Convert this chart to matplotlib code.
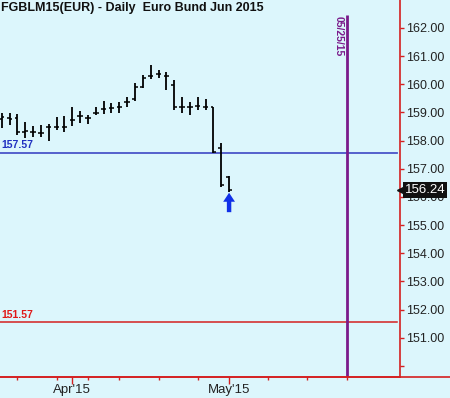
import matplotlib
matplotlib.use('Agg')
import matplotlib.pyplot as plt
from matplotlib.lines import Line2D

plt.rcParams['font.family'] = ['Liberation Sans', 'DejaVu Sans']

# ---- data (daily OHLC, trading-day index) ----
bar_idx = list(range(30))
opens  = [158.78, 158.80, 158.81, 158.30, 158.32, 158.28, 158.50, 158.50, 158.50, 158.73,
          158.88, 158.79, 158.97, 159.11, 159.15, 159.18, 159.38, 159.47, 159.90, 160.30,
          160.37, 160.30, 159.98, 159.18, 159.18, 159.23, 159.21, 159.18, 157.73, 156.71]
highs  = [158.97, 158.97, 158.94, 158.67, 158.52, 158.55, 158.59, 158.85, 158.88, 159.21,
          159.06, 158.91, 159.18, 159.42, 159.35, 159.38, 159.56, 160.06, 160.33, 160.69,
          160.51, 160.45, 160.15, 159.56, 159.38, 159.54, 159.47, 159.21, 157.91, 156.75]
lows   = [158.44, 158.56, 158.20, 158.08, 158.12, 158.14, 158.00, 158.38, 158.32, 158.52,
          158.62, 158.59, 158.91, 158.94, 158.97, 158.99, 159.18, 159.42, 159.86, 160.18,
          160.21, 159.80, 159.09, 158.97, 158.91, 159.09, 159.09, 157.55, 156.37, 156.18]
closes = [158.84, 158.78, 158.32, 158.33, 158.32, 158.28, 158.50, 158.50, 158.50, 158.73,
          158.88, 158.79, 158.97, 159.11, 159.15, 159.18, 159.38, 159.92, 160.21, 160.30,
          160.37, 160.30, 159.18, 159.18, 159.18, 159.23, 159.21, 157.61, 156.43, 156.24]

week_ticks = [2, 7, 11, 15, 20, 25, 29, 34, 39, 44]
month_ticks = [9, 29]
month_labels = ["Apr'15", "May'15"]
price_ticks = [150, 151, 152, 153, 154, 155, 156, 157, 158, 159, 160, 161, 162]
blue_level = 157.57
red_level = 151.57
marker_x = 44
marker_label = '05/25/15'
last_price = 156.24
title = 'FGBLM15(EUR) - Daily  Euro Bund Jun 2015'

BG = '#dcf6fc'
RED = '#d42020'
BLUE = '#4a55c8'
PURPLE = '#7a1a8a'

W, H = 450, 398
fig = plt.figure(figsize=(W / 100, H / 100), dpi=100)
fig.patch.set_facecolor(BG)
ax = fig.add_axes([0, (H - 377) / H, 400 / W, 377 / H])
ax.set_facecolor(BG)

ax.set_xlim(-0.217, 50.8)
ax.set_ylim(149.61, 162.99)

# OHLC bars
ax.vlines(bar_idx, lows, highs, color='black', linewidth=1.3, zorder=3)
ax.hlines(opens, [i - 0.35 for i in bar_idx], bar_idx, color='black', linewidth=1.1, zorder=3)
ax.hlines(closes, bar_idx, [i + 0.35 for i in bar_idx], color='black', linewidth=1.1, zorder=3)

# horizontal levels
ax.axhline(blue_level, xmin=0, xmax=0.992, color=BLUE, linewidth=1.3, zorder=2)
ax.axhline(red_level, xmin=0, xmax=0.992, color=RED, linewidth=1.1, zorder=2)
ax.text(0.004, blue_level + 0.08, f'{blue_level:.2f}', transform=ax.get_yaxis_transform(),
        color='#2030c0', fontsize=7.5, fontweight='bold', va='bottom', ha='left')
ax.text(0.004, red_level + 0.08, f'{red_level:.2f}', transform=ax.get_yaxis_transform(),
        color='#e01818', fontsize=7.5, fontweight='bold', va='bottom', ha='left')

# vertical date marker
ax.vlines(marker_x, 0, 1 - 15 / 377, transform=ax.get_xaxis_transform(),
          color=PURPLE, linewidth=2, zorder=2)
ax.text(marker_x - 1.0, 1 - 16 / 377, marker_label, transform=ax.get_xaxis_transform(),
        rotation=270, color=PURPLE, fontsize=7.5, fontweight='bold', ha='center', va='top')

# up arrow under last bar
ax.annotate('', xy=(bar_idx[-1], lows[-1] - 0.03), xytext=(bar_idx[-1], lows[-1] - 0.72),
            arrowprops=dict(facecolor='#1030e8', edgecolor='none', width=3.2,
                            headwidth=8.5, headlength=6.5, shrink=0), zorder=4)

# spines
for s in ['left', 'top']:
    ax.spines[s].set_visible(False)
ax.spines['right'].set_color(RED)
ax.spines['bottom'].set_color(RED)
ax.spines['right'].set_linewidth(1.2)
ax.spines['bottom'].set_linewidth(1.2)
fig.add_artist(Line2D([0, 1], [(H - 377) / H] * 2, transform=fig.transFigure,
                      color=RED, linewidth=1.2))

# y axis on right
ax.yaxis.tick_right()
ax.set_yticks(price_ticks)
ax.set_yticklabels(['' if p == 150 else f'{p:.2f}' for p in price_ticks])
ax.tick_params(axis='y', colors=RED, labelcolor='#222222', length=3, width=1,
               labelsize=9, pad=1.5)

# x axis ticks
ax.set_xticks(month_ticks)
ax.set_xticklabels(month_labels)
ax.set_xticks(week_ticks, minor=True)
ax.tick_params(axis='x', which='major', colors=RED, labelcolor='#222222', length=5,
               width=1, labelsize=9.5, pad=0)
ax.tick_params(axis='x', which='minor', colors=RED, length=2.3, width=1)

# last price box
ax.plot([1.0], [last_price], marker='<', markersize=5, color='#111111',
        transform=ax.get_yaxis_transform(), clip_on=False, zorder=10)
ax.text(1.012, last_price, f'{last_price:.2f}', transform=ax.get_yaxis_transform(),
        color='white', fontsize=9.5, va='center', ha='left', zorder=11,
        bbox=dict(boxstyle='square,pad=0.15', facecolor='#111111', edgecolor='none'),
        clip_on=False)

# title
fig.text(0.002, 1 - 8 / H, title, fontsize=9, fontweight='bold', color='#111111',
         va='center', ha='left')

fig.savefig('out.png', dpi=100, facecolor=BG)
